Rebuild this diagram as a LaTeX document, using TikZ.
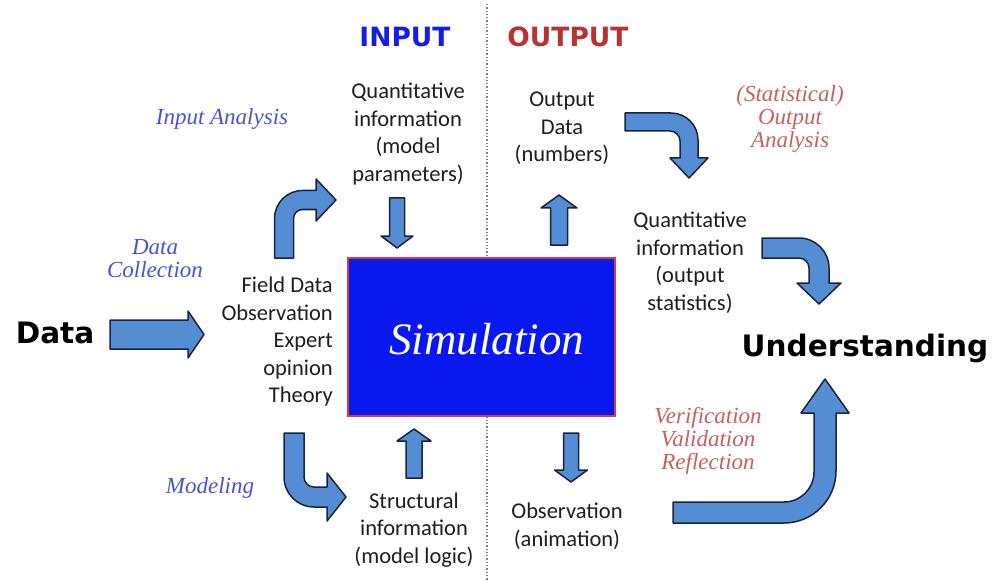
\documentclass[tikz,border=0pt]{standalone}
\usepackage{fontspec}
\setmainfont{Carlito}
\newfontfamily\serifit{Liberation Serif}
\newfontfamily\heavy{DejaVu Sans}
\usepackage{xcolor}
\definecolor{arrowblue}{RGB}{84,141,212}
\definecolor{arrowline}{RGB}{25,35,60}
\definecolor{simblue}{RGB}{8,24,238}
\definecolor{simred}{RGB}{215,60,60}
\definecolor{inputblue}{RGB}{20,30,235}
\definecolor{outputred}{RGB}{185,50,50}
\definecolor{inlabel}{RGB}{70,85,210}
\definecolor{outlabel}{RGB}{200,95,95}
\definecolor{bodytext}{RGB}{30,30,30}
\usepackage{tikz}
\tikzset{
  body/.style={align=center, inner sep=0pt, text=bodytext, font=\fontsize{22.5}{27.5}\selectfont},
  italabel/.style={align=center, inner sep=0pt, font=\serifit\itshape\fontsize{23}{23}\selectfont},
  heading/.style={inner sep=0pt, font=\heavy\bfseries\fontsize{26.5}{26.5}\selectfont},
  bigword/.style={inner sep=0pt, text=black, font=\heavy\bfseries\fontsize{29.5}{30}\selectfont},
  arrowbody/.style={fill=arrowblue, draw=arrowline, line width=1.5pt, line join=round},
  pics/blockarrow/.style args={#1/#2/#3/#4}{
    code={\draw[arrowbody] (0,-#2) -- (#1-#4,-#2) -- (#1-#4,-#3) -- (#1,0) -- (#1-#4,#3) -- (#1-#4,#2) -- (0,#2) -- cycle;}}
}

\begin{document}
\begin{tikzpicture}[x=1pt, y=-1pt]
\useasboundingbox (0,0) rectangle (998,580);
\coordinate (divtop) at (487,4);
\coordinate (divbot) at (487,580);
\draw[gray, dotted, line width=1.3pt] (divtop) -- (divbot);
\node[draw=simred, line width=1.5pt, fill=simblue, minimum width=267pt, minimum height=158pt, inner sep=0pt] (sim) at (481.5,337) {};
\node[inner sep=0pt, text=white, font=\serifit\itshape\fontsize{45}{45}\selectfont] (simlabel) at (486.5,339) {Simulation};
\node[heading, text=inputblue] (inhead) at (405,37) {INPUT};
\node[heading, text=outputred] (outhead) at (568,37) {OUTPUT};
\node[body] (params) at (408,134) {Quantitative\\information\\(model\\parameters)};
\node[body] (numbers) at (562,128.5) {Output\\Data\\(numbers)};
\node[italabel, text=outlabel] (outanalysis) at (790,119.5) {(Statistical)\\Output\\Analysis};
\node[italabel, text=inlabel] (inanalysis) at (222,119) {Input Analysis};
\node[italabel, text=inlabel] (collection) at (155,258.5) {Data\\Collection};
\node[body, align=right, anchor=east] (sources) at (333,341.5) {Field Data\\Observation\\Expert\\opinion\\Theory};
\node[bigword] (data) at (55,333) {Data};
\node[body] (stats) at (690,263) {Quantitative\\information\\(output\\statistics)};
\node[bigword] (understanding) at (865,348) {Understanding};
\node[italabel, text=outlabel] (vvr) at (708,441) {Verification\\Validation\\Reflection};
\node[italabel, text=inlabel] (modeling) at (210,488) {Modeling};
\node[body] (logic) at (414,530) {Structural\\information\\(model logic)};
\node[body] (animation) at (567,526) {Observation\\(animation)};

\pic (collect) at (110,334.5) {blockarrow=94/14.5/23.5/16};
\pic[rotate=-90] (toparams) at (397,198) {blockarrow=50/7.5/16/12};
\pic[rotate=90] (tologic) at (414,478) {blockarrow=49/8/17/12};
\pic[rotate=90] (tonumbers) at (559,245) {blockarrow=50/8.5/18/13};
\pic[rotate=-90] (toanim) at (571,433) {blockarrow=49/7.5/16.5/12};

\draw[arrowbody] (274.5,258) [rounded corners=28pt] -- (274.5,190.5) [sharp corners] -- (316,190.5) -- (316,179) -- (336,200) -- (316,221) -- (316,209.5) [rounded corners=9pt] -- (293.5,209.5) [sharp corners] -- (293.5,258) -- cycle;
\draw[arrowbody] (284,433) [rounded corners=30pt] -- (284,507) [sharp corners] -- (327,507) -- (327,521) -- (346,497) -- (327,473) -- (327,487) [rounded corners=10pt] -- (304,487) [sharp corners] -- (304,433) -- cycle;
\draw[arrowbody] (625,113) [rounded corners=27pt] -- (698,113) [sharp corners] -- (698,158) -- (708,158) -- (689,178) -- (670,158) -- (680,158) [rounded corners=10pt] -- (680,131) [sharp corners] -- (625,131) -- cycle;
\draw[arrowbody] (762,238) [rounded corners=30pt] -- (829,238) [sharp corners] -- (829,283) -- (841,283) -- (819,304) -- (797,283) -- (809,283) [rounded corners=10pt] -- (809,258) [sharp corners] -- (762,258) -- cycle;
\draw[arrowbody] (673,502) [rounded corners=30pt] -- (814,502) [sharp corners] -- (814,413) -- (801,413) -- (825,379) -- (849,413) -- (836,413) [rounded corners=52pt] -- (836,523) [sharp corners] -- (673,523) -- cycle;
\end{tikzpicture}
\end{document}
